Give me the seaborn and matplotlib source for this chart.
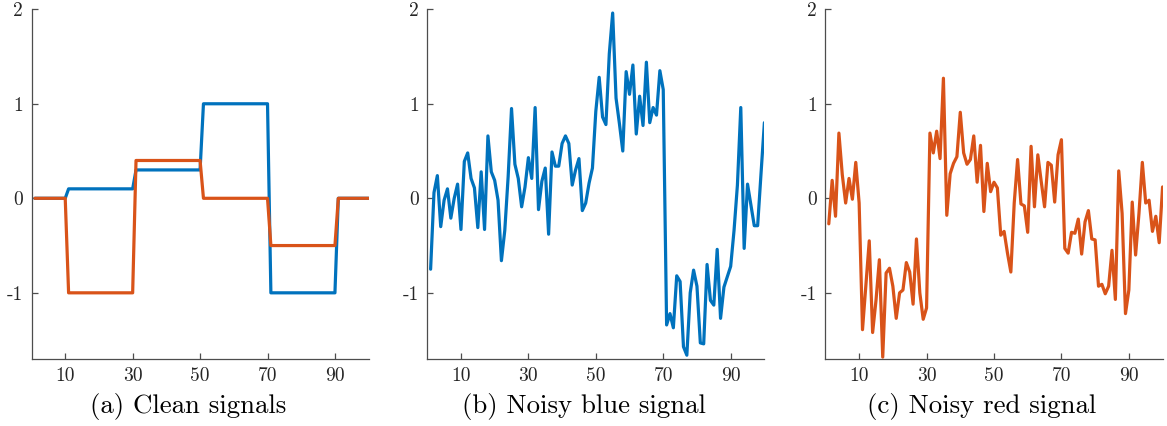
import numpy as np
import pandas as pd
import seaborn as sns
import matplotlib.pyplot as plt

# sample index shared by every signal
t = np.arange(1, 101)

# clean signals, piecewise constant over 20-sample blocks
clean_blue_levels = [0, 0.1, 0.3, 1, -1, 0]
clean_red_levels = [0, -1, 0.4, 0, -0.5, 0]
block_lengths = [10, 20, 20, 20, 20, 10]

noisy_blue = [
    -0.75, 0.06, 0.24, -0.30, -0.02, 0.10, -0.21, 0.00, 0.15, -0.33,
    0.39, 0.48, 0.21, 0.11, -0.31, 0.28, -0.33, 0.66, 0.28, 0.19,
    -0.02, -0.66, -0.34, 0.23, 0.95, 0.36, 0.21, -0.09, 0.12, 0.43,
    0.21, 0.96, -0.12, 0.18, 0.32, -0.38, 0.49, 0.34, 0.34, 0.58,
    0.66, 0.58, 0.14, 0.30, 0.42, -0.13, -0.05, 0.16, 0.32, 0.92,
    1.28, 0.86, 0.78, 1.53, 1.96, 1.06, 0.79, 0.50, 1.34, 1.10,
    1.41, 0.68, 1.08, 0.77, 1.44, 0.80, 0.96, 0.88, 1.35, 1.15,
    -1.34, -1.22, -1.37, -0.82, -0.88, -1.57, -1.66, -1.00, -0.76, -0.93,
    -1.53, -1.54, -0.70, -1.08, -1.13, -0.54, -1.27, -0.94, -0.83, -0.72,
    -0.34, 0.14, 0.96, -0.53, 0.15, -0.07, -0.29, -0.29, 0.26, 0.80,
]

noisy_red = [
    -0.27, 0.19, -0.19, 0.69, 0.25, -0.05, 0.21, -0.01, 0.38, -0.05,
    -1.39, -0.92, -0.45, -1.42, -1.08, -0.65, -1.68, -0.79, -0.74, -0.93,
    -1.27, -1.00, -0.97, -0.68, -0.78, -1.12, -0.43, -1.00, -1.28, -1.16,
    0.69, 0.48, 0.71, 0.42, 1.27, -0.18, 0.26, 0.37, 0.44, 0.91,
    0.48, 0.36, 0.41, 0.66, 0.17, 0.56, -0.14, 0.37, 0.07, 0.17,
    0.11, -0.39, -0.35, -0.58, -0.78, -0.05, 0.41, -0.06, -0.08, -0.36,
    0.55, -0.09, 0.46, 0.18, -0.09, 0.38, 0.35, -0.04, 0.46, 0.62,
    -0.53, -0.58, -0.36, -0.37, -0.22, -0.59, -0.25, -0.13, -0.43, -0.44,
    -0.93, -0.91, -1.01, -0.93, -0.55, -1.07, 0.29, -0.16, -1.22, -0.97,
    -0.04, -0.60, -0.16, 0.38, -0.05, -0.02, -0.35, -0.19, -0.47, 0.12,
]

titles = ["(a) Clean signals", "(b) Noisy blue signal", "(c) Noisy red signal"]
x_ticks = [10, 30, 50, 70, 90]
y_ticks = [-1, 0, 1, 2]

blue = "#0072BD"
red = "#D95319"
axis_grey = "#4d4d4d"

clean_blue = np.repeat(clean_blue_levels, block_lengths)
clean_red = np.repeat(clean_red_levels, block_lengths)

sns.set_theme(style="ticks")
plt.rcParams["font.family"] = ["cmr10", "DejaVu Serif"]
plt.rcParams["axes.unicode_minus"] = False

W, H = 1167, 426
fig = plt.figure(figsize=(W / 100, H / 100), dpi=100)
lefts = [0.027, 0.3661, 0.7073]
width = 0.2889
axes = [fig.add_axes([l, 0.1573, width, 0.821]) for l in lefts]

sns.lineplot(x=t, y=clean_blue, ax=axes[0], color=blue, linewidth=2.3)
sns.lineplot(x=t, y=clean_red, ax=axes[0], color=red, linewidth=2.3)
sns.lineplot(x=t, y=noisy_blue, ax=axes[1], color=blue, linewidth=2.3)
sns.lineplot(x=t, y=noisy_red, ax=axes[2], color=red, linewidth=2.3)

for ax, left, title in zip(axes, lefts, titles):
    ax.set_xlim(0, 100)
    ax.set_ylim(-1.7, 2)
    ax.set_xticks(x_ticks)
    ax.set_xticklabels([str(v) for v in x_ticks])
    ax.set_yticks(y_ticks)
    ax.set_yticklabels([str(v) for v in y_ticks])
    ax.tick_params(direction="in", length=4.5, width=0.9, color=axis_grey,
                   labelcolor="#262626", labelsize=14, pad=6)
    for side in ["top", "right"]:
        ax.spines[side].set_visible(False)
    for side in ["left", "bottom"]:
        ax.spines[side].set_color(axis_grey)
        ax.spines[side].set_linewidth(0.9)
    ax.set_xlabel("")
    ax.set_ylabel("")
    # caption sits centred under the whole subfigure (ticks included)
    fig.text(left + width / 2 - 12 / W, 13 / H, title, fontsize=19.3,
             color="black", ha="center", va="baseline")

plt.savefig("out.png", dpi=100)
plt.close()
